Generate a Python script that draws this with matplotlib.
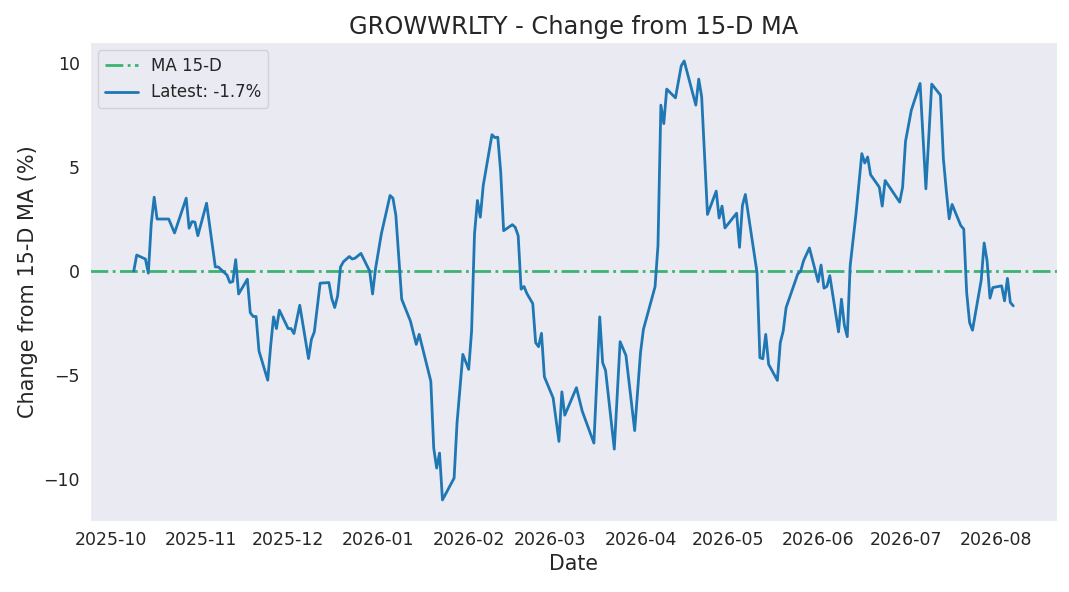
import pandas as pd
import matplotlib
matplotlib.use('Agg')
import matplotlib.pyplot as plt
import matplotlib.dates as mdates
import seaborn as sns

ticker = 'GROWWRLTY'
ma_window = 15

# values (% distance from the 15-day MA)
dates = ['2025-10-09', '2025-10-10', '2025-10-13', '2025-10-14', '2025-10-15', '2025-10-16',
         '2025-10-17', '2025-10-21', '2025-10-23', '2025-10-27', '2025-10-28', '2025-10-29',
         '2025-10-30', '2025-10-31', '2025-11-03', '2025-11-06', '2025-11-07', '2025-11-10',
         '2025-11-11', '2025-11-12', '2025-11-13', '2025-11-14', '2025-11-17', '2025-11-18',
         '2025-11-19', '2025-11-20', '2025-11-21', '2025-11-24', '2025-11-25', '2025-11-26',
         '2025-11-27', '2025-11-28', '2025-12-01', '2025-12-02', '2025-12-03', '2025-12-05',
         '2025-12-08', '2025-12-09', '2025-12-10', '2025-12-12', '2025-12-15', '2025-12-16',
         '2025-12-17', '2025-12-18', '2025-12-19', '2025-12-20', '2025-12-22', '2025-12-23',
         '2025-12-24', '2025-12-26', '2025-12-29', '2025-12-30', '2025-12-31', '2026-01-02',
         '2026-01-05', '2026-01-06', '2026-01-07', '2026-01-09', '2026-01-12', '2026-01-14',
         '2026-01-15', '2026-01-19', '2026-01-20', '2026-01-21', '2026-01-22', '2026-01-23',
         '2026-01-27', '2026-01-28', '2026-01-30', '2026-02-01', '2026-02-02', '2026-02-03',
         '2026-02-04', '2026-02-05', '2026-02-06', '2026-02-09', '2026-02-10', '2026-02-11',
         '2026-02-12', '2026-02-13', '2026-02-16', '2026-02-17', '2026-02-18', '2026-02-19',
         '2026-02-20', '2026-02-21', '2026-02-23', '2026-02-24', '2026-02-25', '2026-02-26',
         '2026-02-27', '2026-03-02', '2026-03-04', '2026-03-05', '2026-03-06', '2026-03-10',
         '2026-03-12', '2026-03-16', '2026-03-18', '2026-03-19', '2026-03-20', '2026-03-23',
         '2026-03-25', '2026-03-27', '2026-03-30', '2026-04-01', '2026-04-02', '2026-04-06',
         '2026-04-07', '2026-04-08', '2026-04-09', '2026-04-10', '2026-04-13', '2026-04-15',
         '2026-04-16', '2026-04-20', '2026-04-21', '2026-04-22', '2026-04-24', '2026-04-27',
         '2026-04-28', '2026-04-29', '2026-04-30', '2026-05-04', '2026-05-05', '2026-05-06',
         '2026-05-07', '2026-05-11', '2026-05-12', '2026-05-13', '2026-05-14', '2026-05-15',
         '2026-05-18', '2026-05-19', '2026-05-20', '2026-05-21', '2026-05-25', '2026-05-26',
         '2026-05-27', '2026-05-29', '2026-06-01', '2026-06-02', '2026-06-03', '2026-06-04',
         '2026-06-05', '2026-06-08', '2026-06-09', '2026-06-10', '2026-06-11', '2026-06-12',
         '2026-06-14', '2026-06-16', '2026-06-17', '2026-06-18', '2026-06-19', '2026-06-22',
         '2026-06-23', '2026-06-24', '2026-06-29', '2026-06-30', '2026-07-01', '2026-07-03',
         '2026-07-06', '2026-07-08', '2026-07-10', '2026-07-13', '2026-07-14', '2026-07-15',
         '2026-07-16', '2026-07-17', '2026-07-20', '2026-07-21', '2026-07-22', '2026-07-23',
         '2026-07-24', '2026-07-27', '2026-07-28', '2026-07-29', '2026-07-30', '2026-07-31',
         '2026-08-03', '2026-08-04', '2026-08-05', '2026-08-06', '2026-08-07']

pct_from_ma = [0.0, 0.77, 0.58, -0.1, 2.27, 3.55,
               2.5, 2.5, 1.83, 3.5, 2.06, 2.38,
               2.35, 1.7, 3.26, 0.2, 0.2, -0.19,
               -0.55, -0.5, 0.55, -1.1, -0.39, -2.0,
               -2.18, -2.18, -3.84, -5.24, -3.6, -2.2,
               -2.76, -1.88, -2.76, -2.76, -3.0, -1.64,
               -4.2, -3.28, -2.92, -0.58, -0.55, -1.32,
               -1.75, -1.19, 0.2, 0.45, 0.7, 0.58,
               0.62, 0.85, 0.0, -1.1, 0.1, 1.78,
               3.63, 3.5, 2.67, -1.35, -2.4, -3.52,
               -3.04, -5.29, -8.5, -9.46, -8.74, -10.99,
               -9.94, -7.29, -4.0, -4.72, -2.88, 1.78,
               3.39, 2.59, 4.11, 6.55, 6.41, 6.43,
               4.75, 1.94, 2.23, 2.1, 1.7, -0.87,
               -0.74, -1.08, -1.56, -3.44, -3.63, -2.99,
               -5.08, -6.09, -8.18, -5.8, -6.92, -5.6,
               -6.73, -8.26, -2.2, -4.4, -4.77, -8.55,
               -3.39, -4.05, -7.66, -3.92, -2.8, -0.75,
               1.22, 7.97, 7.08, 8.74, 8.32, 9.86,
               10.09, 7.97, 9.22, 8.37, 2.72, 3.84,
               2.55, 3.12, 2.07, 2.78, 1.14, 3.15,
               3.68, -0.06, -4.16, -4.21, -3.04, -4.48,
               -5.25, -3.44, -2.88, -1.75, -0.14, 0.0,
               0.5, 1.11, -0.51, 0.29, -0.82, -0.74,
               -0.22, -2.92, -1.35, -2.6, -3.15, 0.26,
               2.75, 5.64, 5.19, 5.48, 4.63, 4.03,
               3.12, 4.35, 3.31, 4.03, 6.23, 7.73,
               9.01, 3.95, 8.98, 8.45, 5.4, 3.87,
               2.51, 3.2, 2.18, 2.02, -1.03, -2.47,
               -2.84, -0.43, 1.35, 0.5, -1.3, -0.79,
               -0.71, -1.43, -0.35, -1.51, -1.67]

sns.set_style('dark')
plt.rcParams['font.family'] = ['DejaVu Sans']

x = pd.to_datetime(dates)
latest = pct_from_ma[-1]

fig, ax = plt.subplots(figsize=(10.69, 5.92), dpi=100)
ax.axhline(0, color='mediumseagreen', linestyle='-.', linewidth=2, label=f'MA {ma_window}-D')
ax.plot(x, pct_from_ma, color='#1f77b4', linewidth=2, label=f'Latest: {latest:.1f}%')

ax.set_title(f'{ticker} - Change from {ma_window}-D MA', fontsize=17.4)
ax.set_xlabel('Date', fontsize=14.8)
ax.set_ylabel(f'Change from {ma_window}-D MA (%)', fontsize=15)
ax.tick_params(axis='both', labelsize=12.5)
ax.xaxis.set_major_locator(mdates.MonthLocator())
ax.xaxis.set_major_formatter(mdates.DateFormatter('%Y-%m'))
ax.set_ylim(-12, 11)
ax.legend(loc='upper left', fontsize=12)

plt.subplots_adjust(left=0.084, right=0.989, top=0.929, bottom=0.12)
plt.savefig('out.png', dpi=100)
